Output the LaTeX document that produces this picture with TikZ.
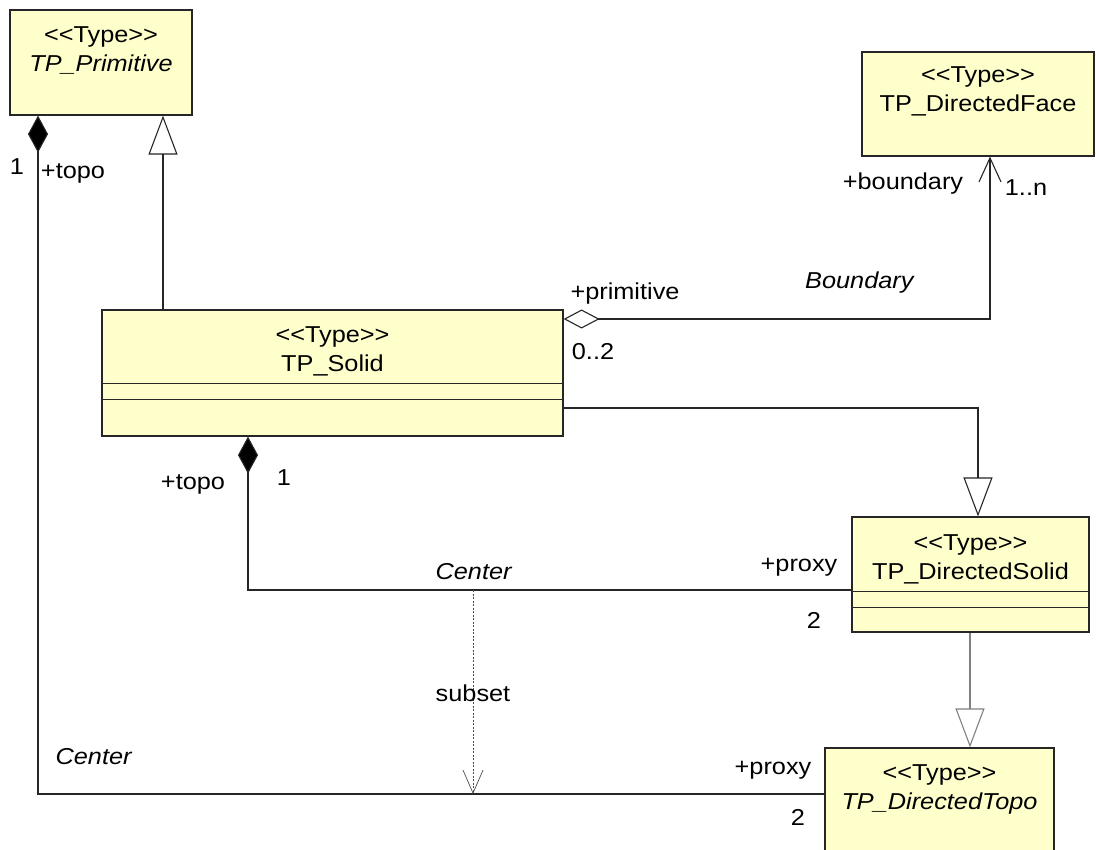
\documentclass[tikz,border=0pt]{standalone}
\usepackage{fontspec}
\setmainfont{Liberation Sans}[FakeStretch=1.1]
\usetikzlibrary{arrows.meta,calc}
\definecolor{classfill}{RGB}{255,255,204}
\newcommand{\stereo}{<\kern0pt<Type>\kern0pt>}

\begin{document}
\begin{tikzpicture}[x=1pt,y=-1pt,
    every node/.style={font=\fontsize{23}{29}\selectfont, inner sep=0pt},
    classbox/.style={draw=black!85, fill=classfill, line width=1.2pt, rectangle},
    classname/.style={align=center, anchor=north},
    link/.style={draw=black!85, line width=1.1pt},
    gen/.style={link, -{Triangle[open,length=39pt,width=29pt]}},
    comp/.style={link, {Diamond[fill=black,length=37pt,width=20pt]}-},
    agg/.style={link, {Diamond[open,length=36pt,width=19pt]}-{Straight Barb[length=24pt,width=22pt]}},
    dep/.style={draw=black!70, line width=0.7pt, dash pattern=on 2pt off 1.5pt,
      -{Straight Barb[length=23pt,width=20pt]}}
  ]
    \clip (0,0) rectangle (1096,850);
    \fill[white] (0,0) rectangle (1096,850);

    % classes
    \node[classbox, minimum width=182pt, minimum height=105pt] (prim) at (101,62.5) {};
    \node[classname] (prim-t) at ($(prim.north)+(0,17)$) {\stereo\\\textit{TP\_Primitive}};

    \node[classbox, minimum width=232pt, minimum height=104pt] (face) at (978,104) {};
    \node[classname] (face-t) at ($(face.north)+(0,15)$) {\stereo\\TP\_DirectedFace};

    \node[classbox, minimum width=461pt, minimum height=126pt] (solid) at (332.5,373) {};
    \node[classname] (solid-t) at ($(solid.north)+(0,17)$) {\stereo\\TP\_Solid};

    \node[classbox, minimum width=237pt, minimum height=115pt] (dsolid) at (970.5,574.5) {};
    \node[classname] (dsolid-t) at ($(dsolid.north)+(0,18)$) {\stereo\\TP\_DirectedSolid};

    \node[classbox, minimum width=229pt, minimum height=112pt] (dtopo) at (939.5,804) {};
    \node[classname] (dtopo-t) at ($(dtopo.north)+(0,17)$) {\stereo\\\textit{TP\_DirectedTopo}};

    % compartments
    \foreach \c/\a/\b in {solid/74/90, dsolid/75/91} {
        \draw[black!85, line width=1.1pt] ($(\c.north west)+(0,\a)$) -- ($(\c.north east)+(0,\a)$);
        \draw[black!85, line width=1.1pt] ($(\c.north west)+(0,\b)$) -- ($(\c.north east)+(0,\b)$);
      }

    % connectors
    \coordinate (ctr) at (473,590);
    \coordinate (ctr-end) at (473,794);
    \draw[gen] (solid.north -| 163,0) -- (prim.south -| 163,0);
    \draw[comp] (prim.south -| 38,0) |- (dtopo.west |- ctr-end);
    \draw[agg] (solid.east |- 0,319) -| (face.south -| 990,0);
    \draw[gen] (solid.east |- 0,408) -| (dsolid.north -| 978,0);
    \draw[comp] (solid.south -| 248,0) |- (dsolid.west |- ctr);
    \draw[gen, draw=black!50] (dsolid.south -| 970,0) -- (dtopo.north -| 970,0);
    \draw[dep] (ctr) -- (ctr-end);

    % role and multiplicity labels
    \node (m-prim) at (17,167) {1};
    \node (r-prim) at (73,173) {+topo};
    \node (r-face) at (903,184) {+boundary};
    \node (m-face) at (1026,188) {1..n};
    \node (a-bound) at (860,283) {\textit{Boundary}};
    \node (r-agg) at (625,294) {+primitive};
    \node (m-agg) at (593,352) {0..2};
    \node (r-solid) at (193,484) {+topo};
    \node (m-solid) at (284,478) {1};
    \node (a-ctr1) at (474,572) {\textit{Center}};
    \node (r-dsolid) at (799,567) {+proxy};
    \node (m-dsolid) at (814,620) {2};
    \node (l-dep) at (473,693) {subset};
    \node (a-ctr2) at (94,757) {\textit{Center}};
    \node (r-dtopo) at (773,770) {+proxy};
    \node (m-dtopo) at (798,817) {2};
  \end{tikzpicture}
\end{document}
